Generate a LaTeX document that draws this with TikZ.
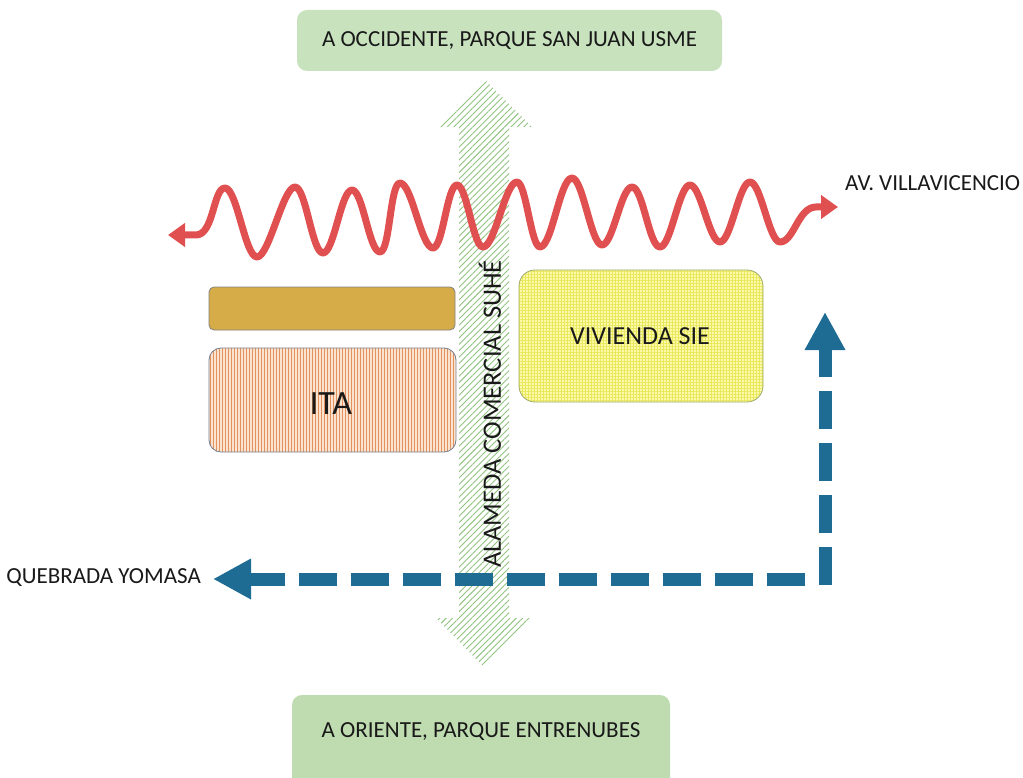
\documentclass[tikz,border=0pt]{standalone}
\usepackage{fontspec}
\setmainfont{Carlito}
\usetikzlibrary{arrows.meta,patterns.meta}

\definecolor{parkgreen}{RGB}{200,226,190}
\definecolor{parkgreenB}{RGB}{190,220,175}
\definecolor{hatchgreen}{RGB}{145,195,128}
\definecolor{roadred}{RGB}{224,80,80}
\definecolor{creekblue}{RGB}{30,108,148}
\definecolor{goldbar}{RGB}{214,172,72}
\definecolor{itabg}{RGB}{250,228,208}
\definecolor{italine}{RGB}{228,145,95}
\definecolor{itaedge}{RGB}{115,128,145}
\definecolor{siebg}{RGB}{250,250,170}
\definecolor{sieline}{RGB}{232,232,90}
\definecolor{sieedge}{RGB}{160,170,110}

\tikzset{
  label/.style={font=\fontsize{23}{26}\selectfont, text=black!90, inner sep=0pt},
  parkbox/.style={rounded corners=10pt, draw=none},
  road/.style={line width=7pt, draw=roadred, line cap=round, line join=round,
    {Triangle[length=17pt,width=23pt]}-{Triangle[length=17pt,width=23pt]}},
  creek/.style={line width=13pt, draw=creekblue, dash pattern=on 38pt off 14pt,
    -{Triangle[length=38pt,width=38pt]}},
}

\begin{document}
\begin{tikzpicture}[x=1pt,y=-1pt]
\useasboundingbox (0,0) rectangle (1023,778);

% pedestrian axis: hatched double arrow
\path[pattern={Lines[angle=45,distance=4.5pt,line width=0.9pt]}, pattern color=hatchgreen]
  (485,80) -- (532,127) -- (509,127) -- (509,618) -- (532,618) -- (484,667)
  -- (436,618) -- (459,618) -- (459,127) -- (436,127) -- cycle;

% park destinations
\node[parkbox, fill=parkgreen, minimum width=425pt, minimum height=61pt] (west) at (509.5,40.5) {};
\node[label] (westtxt) at (west.center) {A OCCIDENTE, PARQUE SAN JUAN USME};
\fill[parkgreenB, rounded corners=10pt] (292,695) rectangle (670,800);
\node[label] (east) at (481,732) {A ORIENTE, PARQUE ENTRENUBES};

% main road
\draw[road] (168,235) -- (196,235) .. controls (214,235) and (213,188) .. (225,188)
  .. controls +(12,0) and +(-12,0) .. (257,257)
  .. controls +(12,0) and +(-12,0) .. (295,187)
  .. controls +(11,0) and +(-11,0) .. (323,253)
  .. controls +(11,0) and +(-11,0) .. (352,190)
  .. controls +(11,0) and +(-11,0) .. (380,252)
  .. controls +(10,0) and +(-10,0) .. (400,183)
  .. controls +(12,0) and +(-12,0) .. (433,248)
  .. controls +(10,0) and +(-10,0) .. (457,185)
  .. controls +(10,0) and +(-10,0) .. (483,247)
  .. controls +(12,0) and +(-12,0) .. (517,182)
  .. controls +(9,0) and +(-9,0) .. (540,247)
  .. controls +(12,0) and +(-12,0) .. (572,178)
  .. controls +(11,0) and +(-11,0) .. (602,245)
  .. controls +(11,0) and +(-11,0) .. (632,187)
  .. controls +(11,0) and +(-11,0) .. (660,247)
  .. controls +(11,0) and +(-11,0) .. (690,185)
  .. controls +(11,0) and +(-11,0) .. (720,242)
  .. controls +(11,0) and +(-11,0) .. (750,182)
  .. controls +(11,0) and +(-11,0) .. (780,242)
  .. controls (794,242) and (798,207) .. (816,207) -- (838,207);
\node[label, anchor=west] (avenue) at (845,183) {AV. VILLAVICENCIO};

% axis name
\node[label, font=\fontsize{26.5}{28}\selectfont, rotate=90] (alameda) at (490,414) {ALAMEDA COMERCIAL SUHÉ};

% blocks
\node[draw=black!50, line width=0.8pt, fill=goldbar, rounded corners=5pt,
  minimum width=246pt, minimum height=43pt] (bar) at (332,308.5) {};
\path[fill=itabg, rounded corners=12pt] (209,348) rectangle (456,452);
\path[pattern={Lines[angle=90,distance=3pt,line width=1pt]}, pattern color=italine, rounded corners=12pt]
  (209,348) rectangle (456,452);
\node[draw=itaedge, line width=0.8pt, rounded corners=12pt,
  minimum width=247pt, minimum height=104pt] (ita) at (332.5,400) {};
\node[label, font=\fontsize{34}{36}\selectfont] (itatxt) at (331,404) {ITA};

\path[fill=siebg, rounded corners=16pt] (519,270) rectangle (763,402);
\path[pattern={Lines[angle=0,distance=3pt,line width=0.6pt]}, pattern color=sieline, rounded corners=16pt]
  (519,270) rectangle (763,402);
\path[pattern={Lines[angle=90,distance=3pt,line width=0.6pt]}, pattern color=sieline, rounded corners=16pt]
  (519,270) rectangle (763,402);
\node[draw=sieedge, line width=0.8pt, rounded corners=16pt,
  minimum width=244pt, minimum height=132pt] (sie) at (641,336) {};
\node[label, font=\fontsize{26}{28}\selectfont] (sietxt) at (640,336) {VIVIENDA SIE};

% creek flow
\node[label, anchor=east] (creek) at (201,578) {QUEBRADA YOMASA};
\coordinate (bend) at (825,585);
\coordinate (hstart) at (805,579);
\coordinate (northtip) at (825,312);
\coordinate (westtip) at (213,579);
\draw[creek] (bend) -- (northtip);
\draw[creek] (hstart) -- (westtip);
\end{tikzpicture}
\end{document}
